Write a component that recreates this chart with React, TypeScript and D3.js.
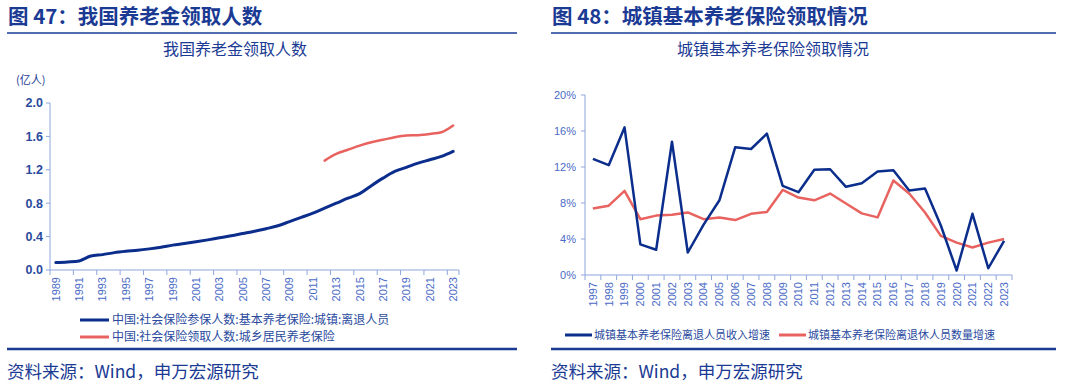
import * as d3 from "d3";

const cjk = "'Noto Sans CJK SC', 'Noto Sans', sans-serif";
const num = "'Liberation Sans', Arial, sans-serif";

const titleBlue = "#1a3a94";
const lineBlue = "#0b2d8c";
const lineRed = "#e8635f";
const axisBlue = "#8fa6dd";
const tickText = "#4a6bc6";

// left chart: pension recipients (100 million people)
const yearsA = d3.range(1989, 2024).map(String);
const urbanRetirees = [
  0.089, 0.097, 0.109, 0.168, 0.184, 0.208, 0.224, 0.236, 0.253, 0.273,
  0.298, 0.317, 0.338, 0.361, 0.386, 0.41, 0.437, 0.464, 0.495, 0.53,
  0.58, 0.63, 0.68, 0.74, 0.8, 0.86, 0.915, 1.01, 1.1, 1.18,
  1.23, 1.28, 1.32, 1.36, 1.42,
];
const ruralYears = d3.range(2012, 2024).map(String);
const ruralRecipients = [1.31, 1.39, 1.44, 1.49, 1.53, 1.56, 1.59, 1.61, 1.615, 1.63, 1.65, 1.73];
const yTicksA = [0, 0.4, 0.8, 1.2, 1.6, 2.0];
const legendA = [
  "中国:社会保险参保人数:基本养老保险:城镇:离退人员",
  "中国:社会保险领取人数:城乡居民养老保险",
];

// right chart: growth rates (%)
const yearsB = d3.range(1997, 2024).map(String);
const incomeGrowth = [
  12.9, 12.2, 16.4, 3.4, 2.8, 14.8, 2.5, 5.6, 8.3, 14.2, 14.0, 15.7, 9.9, 9.2,
  11.7, 11.75, 9.8, 10.2, 11.5, 11.65, 9.4, 9.6, 5.5, 0.5, 6.8, 0.75, 3.8,
];
const retireeGrowth = [
  7.4, 7.7, 9.35, 6.2, 6.6, 6.7, 6.95, 6.2, 6.4, 6.1, 6.8, 7.0, 9.45, 8.6,
  8.3, 9.05, 7.95, 6.85, 6.4, 10.5, 9.05, 6.95, 4.35, 3.6, 3.05, 3.6, 4.0,
];
const yTicksB = [0, 4, 8, 12, 16, 20];
const legendB = ["城镇基本养老保险离退人员收入增速", "城镇基本养老保险离退休人员数量增速"];

const sourceText = "资料来源：Wind，申万宏源研究";

const Header = ({ x0, x1, title, sub, subX }: { x0: number; x1: number; title: string; sub: string; subX: number }) => (
  <g>
    <text x={x0 + 1} y={24} fontFamily={cjk} fontSize={20.5} fontWeight={700} fill={titleBlue}>
      {title}
    </text>
    <line x1={x0} x2={x1} y1={33} y2={33} stroke={titleBlue} strokeWidth={1.5} />
    <text x={subX} y={55} textAnchor="middle" fontFamily={cjk} fontSize={16} fill={titleBlue}>
      {sub}
    </text>
    <line x1={x0} x2={x1} y1={349} y2={349} stroke={titleBlue} strokeWidth={2.5} />
    <text x={x0} y={378} fontFamily={cjk} fontSize={17.5} fill={titleBlue}>
      {sourceText}
    </text>
  </g>
);

const LeftChart = () => {
  const x = d3.scaleBand().domain(yearsA).range([50, 459]);
  const y = d3.scaleLinear().domain([0, 2]).range([270, 103]);
  const cx = (d: string) => (x(d) as number) + x.bandwidth() / 2;
  const blue = d3
    .line<number>()
    .x((_, i) => cx(yearsA[i]))
    .y((d) => y(d))
    .curve(d3.curveMonotoneX);
  const red = d3
    .line<number>()
    .x((_, i) => cx(ruralYears[i]))
    .y((d) => y(d))
    .curve(d3.curveMonotoneX);
  const tickYears = yearsA.filter((_, i) => i % 2 === 0);
  return (
    <g>
      <Header x0={7} x1={517} title="图 47：我国养老金领取人数" sub="我国养老金领取人数" subX={235} />
      <text x={16} y={84} fontFamily={cjk} fontSize={11} fill={titleBlue}>
        (亿人)
      </text>
      <line x1={50} x2={50} y1={103} y2={270} stroke={axisBlue} />
      {yTicksA.map((t) => (
        <g key={t}>
          <line x1={46} x2={50} y1={y(t)} y2={y(t)} stroke={axisBlue} />
          <text x={43} y={y(t)} dy="0.35em" textAnchor="end" fontFamily={num} fontSize={12.5} fontWeight={700} fill="#2a4a9e">
            {t.toFixed(1)}
          </text>
        </g>
      ))}
      <line x1={50} x2={459} y1={270} y2={270} stroke={axisBlue} />
      {tickYears.map((yr) => (
        <g key={yr}>
          <line x1={x(yr)} x2={x(yr)} y1={270} y2={275} stroke={axisBlue} />
          <text
            transform={`translate(${cx(yr)},277) rotate(-90)`}
            dy="0.35em"
            textAnchor="end"
            fontFamily={num}
            fontSize={11}
            fill={tickText}
          >
            {yr}
          </text>
        </g>
      ))}
      <line x1={459} x2={459} y1={270} y2={275} stroke={axisBlue} />
      <path d={blue(urbanRetirees) as string} fill="none" stroke={lineBlue} strokeWidth={3} strokeLinecap="round" />
      <path d={red(ruralRecipients) as string} fill="none" stroke={lineRed} strokeWidth={2.5} strokeLinecap="round" />
      {legendA.map((label, i) => (
        <g key={label} transform={`translate(80,${320 + i * 17})`}>
          <line x1={0} x2={29} y1={0} y2={0} stroke={i === 0 ? lineBlue : lineRed} strokeWidth={3} />
          <text x={32} y={0} dy="0.35em" fontFamily={cjk} fontSize={12} fill="#2a4a9e">
            {label}
          </text>
        </g>
      ))}
    </g>
  );
};

const RightChart = () => {
  const x = d3.scaleBand().domain(yearsB).range([585, 1012]);
  const y = d3.scaleLinear().domain([0, 20]).range([275, 95]);
  const cx = (d: string) => (x(d) as number) + x.bandwidth() / 2;
  const lineGen = d3
    .line<number>()
    .x((_, i) => cx(yearsB[i]))
    .y((d) => y(d));
  return (
    <g>
      <Header x0={551} x1={1056} title="图 48：城镇基本养老保险领取情况" sub="城镇基本养老保险领取情况" subX={773} />
      <line x1={585} x2={585} y1={95} y2={275} stroke={axisBlue} />
      {yTicksB.map((t) => (
        <g key={t}>
          <line x1={581} x2={585} y1={y(t)} y2={y(t)} stroke={axisBlue} />
          <text x={576} y={y(t)} dy="0.35em" textAnchor="end" fontFamily={num} fontSize={11} fill={tickText}>
            {t}%
          </text>
        </g>
      ))}
      <line x1={585} x2={1012} y1={275} y2={275} stroke={axisBlue} />
      {yearsB.map((yr) => (
        <g key={yr}>
          <line x1={x(yr)} x2={x(yr)} y1={275} y2={280} stroke={axisBlue} />
          <text
            transform={`translate(${cx(yr)},282) rotate(-90)`}
            dy="0.35em"
            textAnchor="end"
            fontFamily={num}
            fontSize={11}
            fill={tickText}
          >
            {yr}
          </text>
        </g>
      ))}
      <line x1={1012} x2={1012} y1={275} y2={280} stroke={axisBlue} />
      <path d={lineGen(retireeGrowth) as string} fill="none" stroke={lineRed} strokeWidth={2.5} strokeLinejoin="round" />
      <path d={lineGen(incomeGrowth) as string} fill="none" stroke={lineBlue} strokeWidth={2.5} strokeLinejoin="round" />
      {legendB.map((label, i) => (
        <g key={label} transform={`translate(${i === 0 ? 565 : 779},335)`}>
          <line x1={0} x2={27} y1={0} y2={0} stroke={i === 0 ? lineBlue : lineRed} strokeWidth={3} />
          <text x={29} y={0} dy="0.35em" fontFamily={cjk} fontSize={11} fill="#2a4a9e">
            {label}
          </text>
        </g>
      ))}
    </g>
  );
};

export default function App() {
  return (
    <div style={{ position: "absolute", left: 0, top: 0 }}>
      <svg width={1080} height={386} viewBox="0 0 1080 386" style={{ display: "block", background: "#fff" }}>
        <LeftChart />
        <RightChart />
      </svg>
    </div>
  );
}
